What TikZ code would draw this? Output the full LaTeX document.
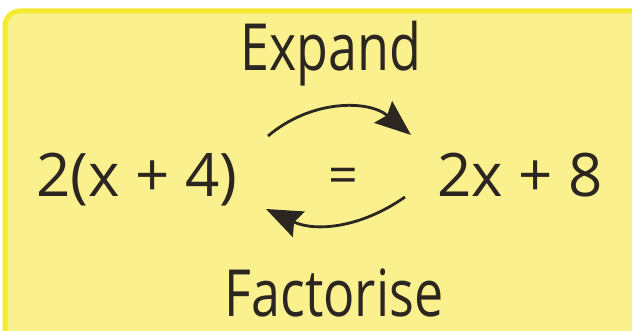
\documentclass[tikz,border=0pt]{standalone}
\usepackage{fontspec}
\setmainfont{Open Sans}
\usetikzlibrary{arrows.meta}
\definecolor{padfill}{HTML}{FAF08E}
\definecolor{padedge}{HTML}{F4EA30}
\definecolor{ink}{HTML}{2B2620}
\newcommand{\tallword}[1]{\scalebox{1}[1.25]{#1}}
\tikzset{
  lbl/.style={text=ink, font=\fontsize{52}{56}\selectfont, inner sep=0pt, anchor=base},
  term/.style={text=ink, font=\fontsize{60}{64}\selectfont, inner sep=0pt, anchor=base},
  flow/.style={draw=ink, line width=2.8pt, -{Stealth[length=36pt,width=28pt,inset=5pt]}}
}
\begin{document}
\begin{tikzpicture}[x=1pt,y=-1pt]
\useasboundingbox (0,0) rectangle (632,331);
\clip (0,0) rectangle (632,331);
\fill[white] (0,0) rectangle (632,331);
\filldraw[fill=padfill, draw=padedge, line width=5pt, rounded corners=15pt] (5,11) rectangle (650,350);
\node[lbl] (expand) at (331,71) {\tallword{Expand}};
\node[term] (lhs) at (137,197) {2(x + 4)};
\node[term, font=\fontsize{52}{56}\selectfont, anchor=center] (eq) at (343,181) {=};
\node[term] (rhs) at (520,197) {2x + 8};
\node[lbl] (fact) at (334,316) {\tallword{Factorise}};
% arrows between the two sides
\coordinate (t1) at (268,136);
\coordinate (t2) at (411,135);
\coordinate (b1) at (405,197);
\coordinate (b2) at (266,209);
\draw[flow] (t1) to[bend left=40] (t2);
\draw[flow] (b1) to[bend left=30] (b2);
\end{tikzpicture}
\end{document}
